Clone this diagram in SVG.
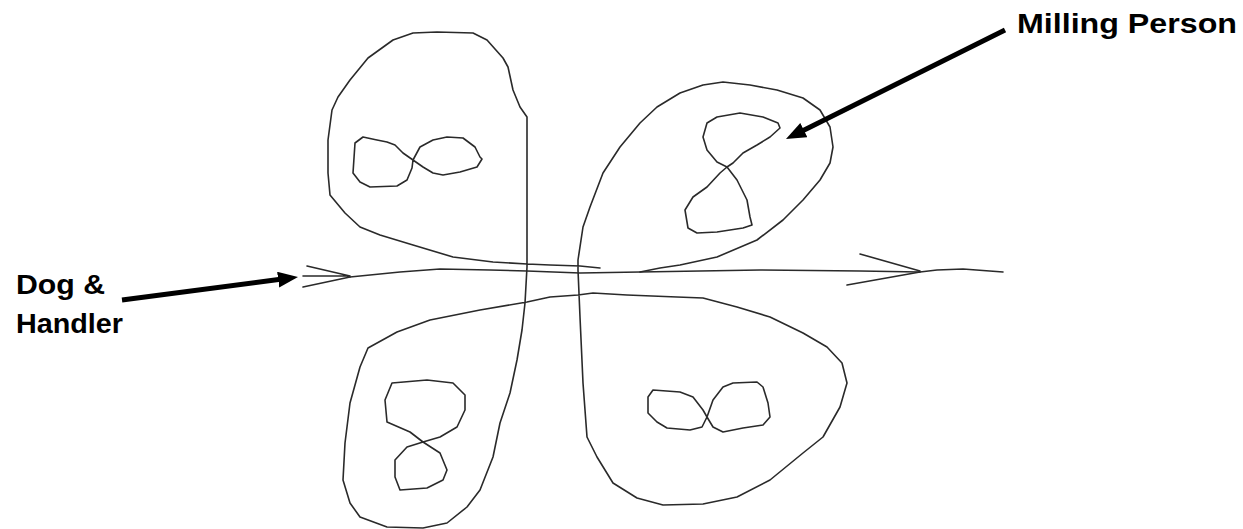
<svg xmlns="http://www.w3.org/2000/svg" width="1243" height="529" viewBox="0 0 1243 529">
<style>
.sk{fill:none;stroke:#2a2a2a;stroke-width:1.6;stroke-linejoin:round;stroke-linecap:round}
.lbl{font-family:"Liberation Sans",Arial,sans-serif;font-weight:bold;font-size:28px;fill:#000}
.ptr{fill:none;stroke:#000;stroke-width:5}
</style>
<defs>
<marker id="ah" markerUnits="userSpaceOnUse" markerWidth="22" markerHeight="18" refX="8" refY="8" orient="auto">
<path d="M0,0 L20,8 L0,16 Z" fill="#000"/>
</marker>
</defs>
<rect width="1243" height="529" fill="#fff"/>
<g id="lobes">
<path id="lobe-left" class="sk" d="M600,268 L580,266 L550,265 L527,264 L493,262 L453,257 L413,245 L380,235 L360,227 L345,213 L330,195 L328,173 L328,140 L332,110 L338,97 L350,80 L368,58 L393,40 L413,33 L437,32 L473,33 L487,40 L503,58 L508,67 L513,90 L520,107 L527,117 L527,140 L527,267 L525,303 L522,330 L517,360 L510,393 L500,423 L493,457 L480,490 L467,507 L447,523 L423,528 L387,527 L360,517 L350,503 L343,480 L345,443 L350,403 L360,367 L368,348 L397,332 L430,320 L480,310 L527,302 L550,297 L578,295 L593,293 L627,295 L677,297 L703,298 L737,307 L770,317 L803,333 L827,347 L842,363 L847,383 L840,407 L823,437 L803,453 L770,480 L737,497 L703,504 L663,505 L637,498 L613,483 L597,457 L587,437 L583,383 L580,317 L578,270 L578,260 L583,227 L590,207 L603,173 L620,147 L640,123 L657,107 L680,93 L703,85 L723,82 L750,85 L777,90 L803,98 L820,110 L830,127 L833,147 L830,163 L820,180 L803,200 L783,220 L757,240 L717,257 L680,265 L660,268 L640,272"/>
</g>
<g id="milling-tl"><path class="sk" d="M363,137 L377,140 L387,142 L395,145 L403,153 L413,160 L423,167 L433,173 L443,175 L460,172 L477,167 L482,159 L480,157 L475,147 L463,138 L447,137 L433,140 L420,147 L413,160 L412,168 L407,180 L397,186 L370,187 L360,182 L353,173 L355,143 Z"/></g>
<g id="milling-tr"><path class="sk" d="M707,123 L717,117 L740,113 L763,117 L778,123 L780,128 L770,137 L757,145 L743,153 L733,163 L727,167 L720,173 L707,187 L693,197 L685,210 L688,228 L697,233 L717,232 L743,228 L752,225 L750,217 L747,200 L737,180 L727,167 L717,162 L707,150 L703,137 Z"/></g>
<g id="milling-bl"><path class="sk" d="M392,383 L427,380 L453,383 L465,395 L465,410 L457,427 L440,437 L423,442 L407,447 L395,460 L395,477 L400,490 L427,488 L443,480 L447,470 L440,453 L423,442 L410,432 L387,422 L385,400 Z"/></g>
<g id="milling-br"><path class="sk" d="M653,390 L680,392 L693,397 L703,410 L707,417 L702,427 L690,430 L667,428 L657,422 L648,413 L648,397 Z M707,417 L713,400 L723,387 L733,383 L757,382 L763,387 L768,403 L770,417 L763,425 L743,428 L723,432 L713,427 Z"/></g>
<g id="connectors">
<path id="track" class="sk" d="M350,277 L400,272 L440,269 L490,270 L527,271 L580,273 L640,272 L700,271 L760,270 L860,271 L920,272 L937,270 L963,269 L1003,272"/>
<path class="sk" d="M860,254 L920,271 M847,285 L920,272"/>
<path class="sk" d="M307,266 L350,276 M303,276 L350,276 M303,287 L350,277"/>
<line class="ptr" x1="1005" y1="30" x2="796.7" y2="133.7" marker-end="url(#ah)"/>
<line class="ptr" x1="122" y1="300" x2="286.1" y2="278.6" marker-end="url(#ah)"/>
</g>
<g id="label-milling"><text class="lbl" x="1017" y="33" textLength="220" lengthAdjust="spacingAndGlyphs">Milling Person</text></g>
<g id="label-dog">
<text class="lbl" x="16" y="294" textLength="89" lengthAdjust="spacingAndGlyphs">Dog &amp;</text>
<text class="lbl" x="16" y="333" textLength="107" lengthAdjust="spacingAndGlyphs">Handler</text>
</g>
</svg>
